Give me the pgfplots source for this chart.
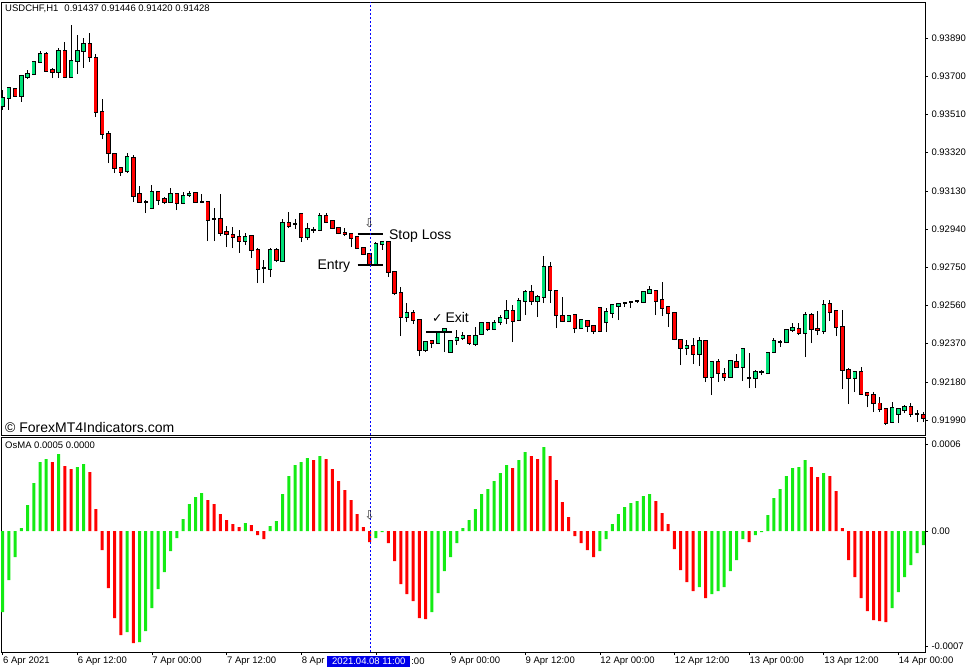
\documentclass[border=0pt]{standalone}
\usepackage{fontspec}
\setmainfont{Liberation Sans}
\newfontfamily\dejavu{DejaVu Sans}
\usepackage{pgfplots}
\usepackage{pgfplotstable}
\pgfplotsset{compat=1.18}

\definecolor{bull}{RGB}{0,224,120}
\definecolor{bear}{RGB}{255,0,0}
\definecolor{oup}{RGB}{20,235,20}
\definecolor{odn}{RGB}{255,0,0}
\definecolor{vline}{RGB}{0,0,255}
\definecolor{datebox}{RGB}{0,0,235}

\newcommand{\tickfont}{\fontsize{9.5bp}{11bp}\selectfont}
\newcommand{\notefont}{\fontsize{14bp}{16bp}\selectfont}

% USDCHF H1 candles, bar index from 6 Apr 2021 00:00
\pgfplotstableread{
i o h l c
0 0.93552 0.93631 0.93532 0.93591
1 0.93591 0.93646 0.93532 0.93641
2 0.93636 0.93641 0.93596 0.93601
3 0.93601 0.93706 0.93572 0.93701
4 0.93696 0.93731 0.93686 0.93711
5 0.93711 0.93776 0.93706 0.93771
6 0.93771 0.93825 0.93766 0.93810
7 0.93810 0.93820 0.93721 0.93726
8 0.93731 0.93741 0.93691 0.93721
9 0.93721 0.93840 0.93691 0.93825
10 0.93825 0.93870 0.93691 0.93696
11 0.93696 0.93955 0.93696 0.93776
12 0.93776 0.93905 0.93711 0.93825
13 0.93825 0.93890 0.93741 0.93860
14 0.93860 0.93915 0.93771 0.93795
15 0.93790 0.93810 0.93497 0.93522
16 0.93522 0.93586 0.93387 0.93412
17 0.93412 0.93427 0.93268 0.93318
18 0.93313 0.93318 0.93218 0.93243
19 0.93243 0.93248 0.93203 0.93223
20 0.93228 0.93318 0.93218 0.93298
21 0.93293 0.93308 0.93074 0.93104
22 0.93114 0.93154 0.93069 0.93074
23 0.93074 0.93084 0.93019 0.93074
24 0.93044 0.93159 0.93039 0.93124
25 0.93124 0.93124 0.93059 0.93084
26 0.93089 0.93099 0.93064 0.93074
27 0.93074 0.93144 0.93069 0.93114
28 0.93114 0.93119 0.93034 0.93069
29 0.93069 0.93124 0.93064 0.93104
30 0.93109 0.93129 0.93099 0.93114
31 0.93119 0.93119 0.93074 0.93074
32 0.93074 0.93114 0.93069 0.93074
33 0.93074 0.93079 0.92880 0.92985
34 0.92990 0.93044 0.92880 0.92990
35 0.92990 0.93114 0.92905 0.92920
36 0.92925 0.92955 0.92850 0.92915
37 0.92910 0.92950 0.92845 0.92900
38 0.92900 0.92935 0.92821 0.92880
39 0.92880 0.92920 0.92860 0.92900
40 0.92905 0.92910 0.92796 0.92836
41 0.92836 0.92846 0.92671 0.92741
42 0.92746 0.92786 0.92671 0.92746
43 0.92741 0.92846 0.92701 0.92836
44 0.92836 0.92846 0.92776 0.92786
45 0.92781 0.92990 0.92776 0.92970
46 0.92970 0.93024 0.92945 0.92955
47 0.92965 0.92990 0.92940 0.92965
48 0.93014 0.93019 0.92875 0.92900
49 0.92900 0.92970 0.92885 0.92940
50 0.92935 0.92950 0.92920 0.92935
51 0.92935 0.93019 0.92930 0.93004
52 0.93004 0.93019 0.92970 0.92975
53 0.92980 0.92985 0.92940 0.92945
54 0.92945 0.92945 0.92915 0.92920
55 0.92920 0.92945 0.92905 0.92915
56 0.92915 0.92920 0.92850 0.92895
57 0.92900 0.92905 0.92845 0.92845
58 0.92845 0.92850 0.92811 0.92816
59 0.92816 0.92821 0.92761 0.92761
60 0.92761 0.92875 0.92761 0.92865
61 0.92865 0.92875 0.92836 0.92875
62 0.92875 0.92875 0.92701 0.92726
63 0.92726 0.92726 0.92612 0.92622
64 0.92622 0.92652 0.92408 0.92502
65 0.92502 0.92572 0.92477 0.92522
66 0.92522 0.92537 0.92467 0.92487
67 0.92487 0.92492 0.92308 0.92338
68 0.92338 0.92383 0.92328 0.92378
69 0.92383 0.92388 0.92348 0.92373
70 0.92373 0.92428 0.92368 0.92423
71 0.92428 0.92443 0.92328 0.92443
72 0.92328 0.92388 0.92328 0.92383
73 0.92388 0.92438 0.92363 0.92398
74 0.92398 0.92428 0.92388 0.92408
75 0.92408 0.92413 0.92363 0.92373
76 0.92368 0.92453 0.92358 0.92408
77 0.92418 0.92472 0.92413 0.92472
78 0.92472 0.92477 0.92433 0.92443
79 0.92443 0.92487 0.92438 0.92472
80 0.92477 0.92512 0.92462 0.92497
81 0.92497 0.92587 0.92467 0.92532
82 0.92532 0.92562 0.92378 0.92482
83 0.92487 0.92597 0.92482 0.92582
84 0.92582 0.92637 0.92512 0.92627
85 0.92627 0.92662 0.92562 0.92582
86 0.92582 0.92612 0.92502 0.92602
87 0.92602 0.92806 0.92572 0.92751
88 0.92751 0.92776 0.92572 0.92637
89 0.92632 0.92637 0.92448 0.92512
90 0.92507 0.92602 0.92477 0.92482
91 0.92482 0.92512 0.92477 0.92507
92 0.92512 0.92517 0.92423 0.92448
93 0.92448 0.92492 0.92443 0.92487
94 0.92482 0.92487 0.92428 0.92458
95 0.92458 0.92463 0.92418 0.92433
96 0.92547 0.92547 0.92428 0.92433
97 0.92477 0.92547 0.92428 0.92527
98 0.92522 0.92567 0.92497 0.92562
99 0.92557 0.92572 0.92487 0.92567
100 0.92572 0.92577 0.92552 0.92572
101 0.92577 0.92582 0.92547 0.92577
102 0.92582 0.92587 0.92572 0.92582
103 0.92577 0.92627 0.92572 0.92627
104 0.92622 0.92657 0.92622 0.92637
105 0.92632 0.92637 0.92512 0.92582
106 0.92587 0.92676 0.92507 0.92547
107 0.92552 0.92552 0.92453 0.92522
108 0.92522 0.92527 0.92388 0.92393
109 0.92388 0.92393 0.92263 0.92348
110 0.92348 0.92388 0.92313 0.92358
111 0.92358 0.92398 0.92268 0.92318
112 0.92318 0.92403 0.92258 0.92383
113 0.92383 0.92383 0.92179 0.92204
114 0.92204 0.92283 0.92114 0.92278
115 0.92278 0.92293 0.92179 0.92224
116 0.92219 0.92249 0.92184 0.92204
117 0.92204 0.92283 0.92199 0.92283
118 0.92278 0.92318 0.92254 0.92254
119 0.92254 0.92343 0.92184 0.92343
120 0.92199 0.92323 0.92149 0.92199
121 0.92199 0.92239 0.92149 0.92229
122 0.92229 0.92239 0.92214 0.92229
123 0.92224 0.92328 0.92219 0.92323
124 0.92328 0.92398 0.92323 0.92383
125 0.92378 0.92388 0.92353 0.92378
126 0.92378 0.92438 0.92373 0.92438
127 0.92438 0.92472 0.92428 0.92448
128 0.92443 0.92472 0.92413 0.92423
129 0.92423 0.92527 0.92303 0.92512
130 0.92512 0.92522 0.92373 0.92443
131 0.92443 0.92532 0.92413 0.92438
132 0.92433 0.92587 0.92418 0.92562
133 0.92567 0.92587 0.92482 0.92527
134 0.92532 0.92537 0.92408 0.92453
135 0.92453 0.92537 0.92144 0.92239
136 0.92239 0.92249 0.92069 0.92199
137 0.92199 0.92229 0.92129 0.92229
138 0.92229 0.92254 0.92114 0.92119
139 0.92124 0.92129 0.92054 0.92114
140 0.92114 0.92129 0.92030 0.92074
141 0.92074 0.92104 0.92030 0.92045
142 0.92045 0.92050 0.91965 0.91975
143 0.91980 0.92079 0.91975 0.92050
144 0.92020 0.92050 0.91975 0.92045
145 0.92040 0.92064 0.92025 0.92055
146 0.92055 0.92074 0.92005 0.92020
147 0.92020 0.92040 0.91980 0.92020
148 0.92015 0.92030 0.91980 0.92000
}\candles

% OsMA histogram, g=1 rising (green), g=0 falling (red)
\pgfplotstableread{
i v g
0 -0.000486 1
1 -0.000294 1
2 -0.000156 1
3 0.000018 1
4 0.000156 1
5 0.000288 1
6 0.000414 1
7 0.000432 1
8 0.000414 0
9 0.000462 1
10 0.000390 0
11 0.000372 0
12 0.000384 1
13 0.000402 1
14 0.000354 0
15 0.000132 0
16 -0.000114 0
17 -0.000342 0
18 -0.000522 0
19 -0.000624 0
20 -0.000606 1
21 -0.000672 0
22 -0.000666 1
23 -0.000600 1
24 -0.000462 1
25 -0.000348 1
26 -0.000246 1
27 -0.000120 1
28 -0.000042 1
29 0.000072 1
30 0.000162 1
31 0.000204 1
32 0.000228 1
33 0.000186 0
34 0.000162 0
35 0.000102 0
36 0.000066 0
37 0.000042 0
38 0.000024 0
39 0.000048 1
40 0.000036 0
41 -0.000024 0
42 -0.000048 0
43 0.000030 1
44 0.000060 1
45 0.000222 1
46 0.000330 1
47 0.000396 1
48 0.000414 1
49 0.000438 1
50 0.000426 0
51 0.000450 1
52 0.000432 0
53 0.000372 0
54 0.000300 0
55 0.000246 0
56 0.000186 0
57 0.000102 0
58 0.000024 0
59 -0.000066 0
60 -0.000042 1
61 -0.000006 1
62 -0.000072 0
63 -0.000180 0
64 -0.000318 0
65 -0.000378 0
66 -0.000420 0
67 -0.000522 0
68 -0.000528 0
69 -0.000486 1
70 -0.000372 1
71 -0.000240 1
72 -0.000156 1
73 -0.000072 1
74 0.000018 1
75 0.000066 1
76 0.000132 1
77 0.000222 1
78 0.000252 1
79 0.000300 1
80 0.000348 1
81 0.000396 1
82 0.000378 0
83 0.000426 1
84 0.000474 1
85 0.000450 0
86 0.000432 0
87 0.000504 1
88 0.000450 0
89 0.000306 0
90 0.000174 0
91 0.000084 0
92 -0.000030 0
93 -0.000072 0
94 -0.000114 0
95 -0.000156 0
96 -0.000120 1
97 -0.000048 1
98 0.000042 1
99 0.000102 1
100 0.000144 1
101 0.000168 1
102 0.000180 1
103 0.000210 1
104 0.000222 1
105 0.000180 0
106 0.000108 0
107 0.000042 0
108 -0.000108 0
109 -0.000234 0
110 -0.000306 0
111 -0.000360 0
112 -0.000336 1
113 -0.000402 0
114 -0.000378 1
115 -0.000360 1
116 -0.000336 1
117 -0.000240 1
118 -0.000174 1
119 -0.000048 1
120 -0.000066 0
121 -0.000024 1
122 -0.000006 1
123 0.000096 1
124 0.000198 1
125 0.000252 1
126 0.000330 1
127 0.000378 1
128 0.000384 1
129 0.000426 1
130 0.000384 0
131 0.000324 0
132 0.000348 1
133 0.000330 0
134 0.000240 0
135 0.000018 0
136 -0.000174 0
137 -0.000276 0
138 -0.000402 0
139 -0.000480 0
140 -0.000534 0
141 -0.000540 0
142 -0.000546 0
143 -0.000462 1
144 -0.000366 1
145 -0.000276 1
146 -0.000204 1
147 -0.000132 1
148 -0.000084 1
}\osma

\pgfplotsset{
  mtpanel/.style={
    scale only axis, width=924bp,
    xmin=-0.27, xmax=148.28,
    axis line style={black, line width=0.8bp},
    tick align=outside, major tick length=3bp,
    major tick style={black, line width=0.6bp},
    ytick pos=right, yticklabel pos=right,
    ticklabel style={font=\tickfont},
    yticklabel style={anchor=west},
    scaled y ticks=false, scaled x ticks=false,
  },
  err/.style={draw=none, mark=none, no markers, forget plot,
    error bars/.cd, y dir=plus, y explicit, error mark=none},
}

\begin{document}
\begin{tikzpicture}
\path[use as bounding box] (0,0) rectangle (977bp,-672bp);

\begin{axis}[mtpanel,
  at={(1bp,-2bp)}, anchor=north west, height=433bp,
  ymin=0.91916, ymax=0.94069,
  xtick=\empty,
  ytick={0.91990,0.92180,0.92370,0.92560,0.92750,0.92940,0.93130,0.93320,0.93510,0.93700,0.93890},
  yticklabels={0.91990,0.92180,0.92370,0.92560,0.92750,0.92940,0.93130,0.93320,0.93510,0.93700,0.93890},
]
% wicks
\addplot[err, error bar style={draw=black, line width=1bp}]
  table[x=i, y=l, y error expr=\thisrow{h}-\thisrow{l}] {\candles};
% body outline
\addplot[err, error bar style={draw=black, line width=4.4bp}]
  table[x=i, y expr={min(\thisrow{o},\thisrow{c})-0.000035},
        y error expr={abs(\thisrow{c}-\thisrow{o})+0.00007}] {\candles};
% body fill
\addplot[err, error bar style={draw=bull, line width=3bp}]
  table[x=i, y=o, y error expr={max(\thisrow{c}-\thisrow{o},0)}] {\candles};
\addplot[err, error bar style={draw=bear, line width=3bp}]
  table[x=i, y=c, y error expr={max(\thisrow{o}-\thisrow{c},0)}] {\candles};

% trade levels
\addplot[black, line width=2bp, forget plot] coordinates {(57.07,0.92916) (61.2,0.92916)};
\addplot[black, line width=2bp, forget plot] coordinates {(57.07,0.92762) (61.2,0.92762)};
\addplot[black, line width=2bp, forget plot] coordinates {(68.06,0.92430) (72.2,0.92430)};

\draw[vline, line width=0.8bp, dash pattern=on 2bp off 2bp]
  (axis cs:59.05,0.91916) -- (axis cs:59.05,0.94069);

\node[anchor=base west, inner sep=0pt, font=\notefont] at (axis cs:62.1,0.92890) {Stop Loss};
\node[anchor=base east, inner sep=0pt, font=\notefont] at (axis cs:55.9,0.92740) {Entry};
\node[anchor=base west, inner sep=0pt, font=\notefont] at (axis cs:69.0,0.92474)
  {{\dejavu\fontsize{12.5bp}{14bp}\selectfont ✓}\hspace{3bp}Exit};
\node[inner sep=0pt, text=black!85] at (axis cs:58.97,0.92970)
  {\dejavu\fontsize{12bp}{13bp}\selectfont ⇩};
\end{axis}

\begin{axis}[mtpanel,
  at={(1bp,-437bp)}, anchor=north west, height=215bp,
  ymin=-0.000726, ymax=0.000564,
  ybar, bar shift=0pt, bar width=3bp,
  xtick={0,12,...,144},
  xticklabels={6 Apr 2021, 6 Apr 12:00, 7 Apr 00:00, 7 Apr 12:00, 8 Apr, {}, 9 Apr 00:00, 9 Apr 12:00, 12 Apr 00:00, 12 Apr 12:00, 13 Apr 00:00, 13 Apr 12:00, 14 Apr 00:00},
  xtick pos=left,
  xticklabel style={anchor=west, xshift=-3bp, yshift=-6.5bp},
  ytick={-0.000694,0,0.000522},
  yticklabels={-0.0007,0.00,0.0006},
]
\addplot[fill=oup, draw=none, restrict expr to domain={\thisrow{g}}{1:1}]
  table[x=i, y=v] {\osma};
\addplot[fill=odn, draw=none, restrict expr to domain={\thisrow{g}}{0:0}]
  table[x=i, y=v] {\osma};
\draw[vline, line width=0.8bp, dash pattern=on 2bp off 2bp]
  (axis cs:59.05,-0.000726) -- (axis cs:59.05,0.000564);
\node[inner sep=0pt, text=black!85] at (axis cs:59,0.000093)
  {\dejavu\fontsize{12bp}{13bp}\selectfont ⇩};
\end{axis}

\node[anchor=west, inner sep=0pt, font=\tickfont] at (5bp,-9bp)
  {USDCHF,H1\hspace{6bp}0.91437 0.91446 0.91420 0.91428};
\node[anchor=base west, inner sep=0pt, font=\notefont] at (5bp,-432bp)
  {© ForexMT4Indicators.com};
\node[anchor=west, inner sep=0pt, font=\tickfont] at (5bp,-445bp)
  {OsMA 0.0005 0.0000};
\node[anchor=west, fill=datebox, text=white, inner xsep=5bp, inner ysep=0pt,
  minimum height=11bp, font=\tickfont] (dt) at (327bp,-661.5bp) {2021.04.08 11:00};
\node[anchor=west, inner sep=0pt, font=\tickfont] at ([xshift=0.5bp]dt.east) {:00};
\end{tikzpicture}
\end{document}
